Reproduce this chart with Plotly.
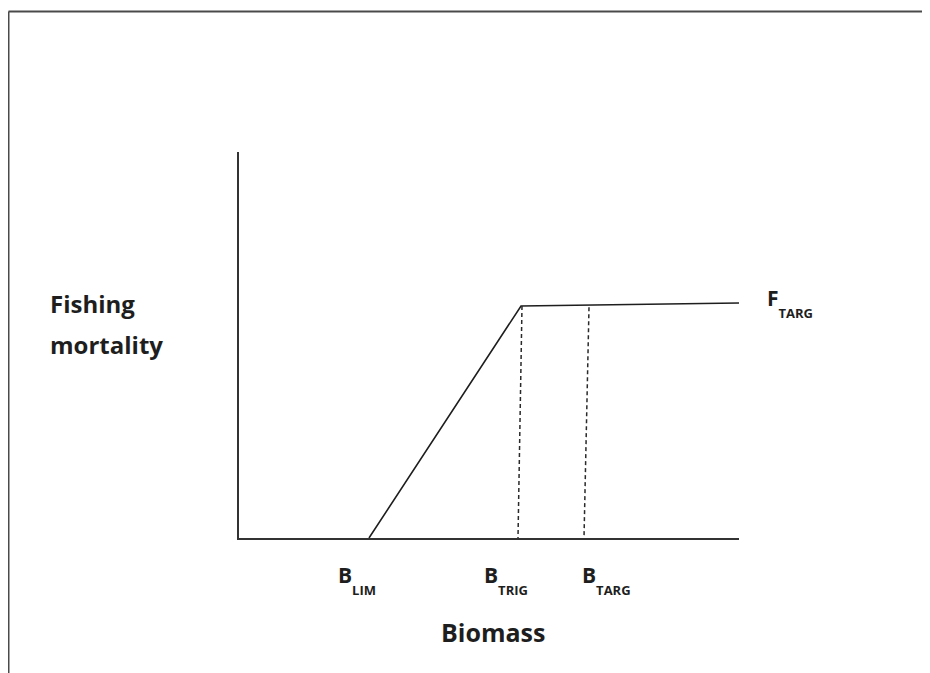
import plotly.graph_objects as go

# harvest control rule: F rises linearly from B_lim to B_trig, then flat at F_targ
curve_x = [26, 56.4, 100]
curve_y = [0, 60.1, 60.9]

# reference points (top / bottom of the dashed drop lines)
trig_x = [56.6, 55.8]
trig_y = [60.1, 0]
targ_x = [70, 69]
targ_y = [59.8, 0]

# labels under the x axis (letter + subscript), x in axis units
ref_main = ["B", "B", "B"]
ref_sub = ["LIM", "TRIG", "TARG"]
ref_label_x = [19.4, 48.6, 68.2]
f_main, f_sub = "F", "TARG"
x_title = "Biomass"
y_title = ["Fishing", "mortality"]

FONT = "Open Sans"
INK = "#1e1e1e"

fig = go.Figure()

fig.add_trace(go.Scatter(x=curve_x, y=curve_y, mode="lines",
                         line=dict(color=INK, width=1.6), hoverinfo="skip"))
for xs, ys in [(trig_x, trig_y), (targ_x, targ_y)]:
    fig.add_trace(go.Scatter(x=xs, y=ys, mode="lines",
                             line=dict(color="#2a2a2a", width=1.5, dash="4px,3px"),
                             hoverinfo="skip"))


def label(x, y, text, size, xanchor="left", yanchor="top"):
    # paper refs so labels outside the axis ranges are still drawn
    return dict(x=x, y=y, xref="paper", yref="paper", text=text,
                xanchor=xanchor, yanchor=yanchor, showarrow=False,
                font=dict(family=FONT, size=size, color=INK, weight=700))


def subbed(main, sub):
    # big base size -> bigger <sub> drop; spans set the visible glyph sizes
    return (f"<span style='font-size:21px'>{main}</span>"
            f"<sub><span style='font-size:13px'>{sub}</span></sub>")


annotations = []
for m, s, mx in zip(ref_main, ref_sub, ref_label_x):
    annotations.append(label(mx / 100, -0.054, subbed(m, s), 55))
annotations.append(label(1.052, 0.664, subbed(f_main, f_sub), 55))
annotations.append(label(0.508, -0.194, x_title, 25, xanchor="center"))
for i, line in enumerate(y_title):
    annotations.append(label(-0.382, 0.656 - i * 0.106, line, 24))

# outer frame, cropped at right and bottom
frame = dict(type="line", xref="paper", yref="paper",
             line=dict(color="#4a4a4a", width=2))
shapes = [
    dict(frame, x0=-0.461, x1=-0.461, y0=-0.5, y1=1.364),
    dict(frame, x0=-0.461, x1=2.0, y0=1.364, y1=1.364),
]

axis_common = dict(showgrid=False, zeroline=False, showticklabels=False,
                   ticks="", showline=True, linecolor="#333333", linewidth=1.6,
                   fixedrange=True)

fig.update_layout(
    width=930, height=673,
    margin=dict(l=231, r=199, t=144, b=143),
    paper_bgcolor="white", plot_bgcolor="white",
    showlegend=False,
    xaxis=dict(axis_common, range=[0, 100]),
    yaxis=dict(axis_common, range=[0, 100]),
    annotations=annotations,
    shapes=shapes,
)

fig.write_html("out.html")
